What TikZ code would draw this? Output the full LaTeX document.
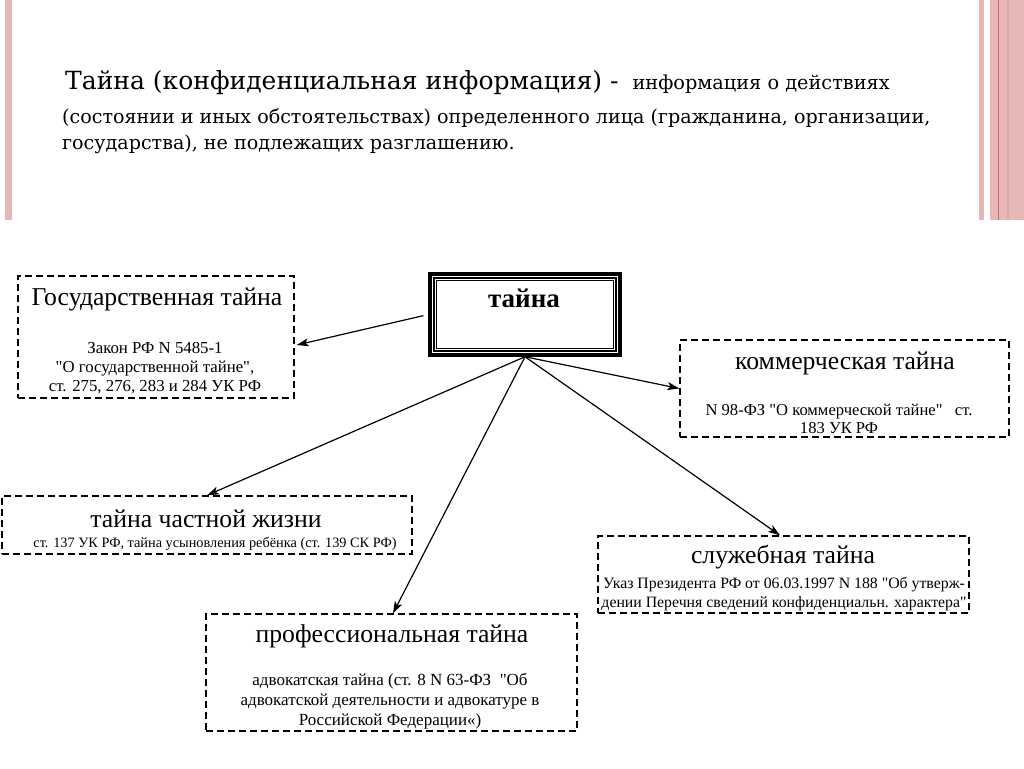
\documentclass[tikz,border=0pt]{standalone}
\usepackage{fontspec}
\setmainfont{Liberation Serif}
\newfontfamily\headfont{DejaVu Serif}
\usetikzlibrary{arrows.meta,calc,positioning}
\definecolor{stripe}{RGB}{229,184,183}
\definecolor{stripeline}{RGB}{205,105,95}
\newcommand{\qt}{\textquotedbl}
\tikzset{
	dbox/.style={draw, line width=1.3pt, dash pattern=on 7pt off 4pt, inner sep=0pt},
	boxtitle/.style={font=\fontsize{25.7}{28}\selectfont},
	boxtext/.style={align=center, font=\fontsize{16.8}{19}\selectfont},
	conn/.style={line width=1.2pt, -{Stealth[length=12pt,width=8pt,inset=3pt]}},
}

\begin{document}
\begin{tikzpicture}[x=1pt,y=-1pt]
	\useasboundingbox (0,0) rectangle (1024,768);
	%
	% stripes
	\fill[stripe] (5,0) rectangle (12,220);
	\fill[stripe] (979,0) rectangle (984,220);
	\fill[stripe] (990,0) rectangle (1024,220);
	\fill[stripeline] (997.5,0) rectangle (998.8,220);
	\fill[stripe!80!stripeline] (1007,0) rectangle (1008.5,220);
	
	% heading
	\node[anchor=base west, inner sep=0pt] (head1) at (65,89) {\headfont\fontsize{25}{28}\selectfont Тайна (конфиденциальная информация) - \fontsize{19.3}{20}\selectfont\ информация о действиях};
	\node[anchor=base west, inner sep=0pt] (head2) at (62,123) {\headfont\fontsize{19.1}{20}\selectfont (состоянии и иных обстоятельствах) определенного лица (гражданина, организации,};
	\node[anchor=base west, inner sep=0pt] (head3) at (62,149) {\headfont\fontsize{19.1}{20}\selectfont государства), не подлежащих разглашению.};
	
	% main box
	\node[draw, line width=3.5pt, minimum width=190, minimum height=81, inner sep=0pt] (taina) at (525,314.5) {};
	\draw[line width=2pt] (434,278) rectangle (616,351);
	\draw[line width=1pt] (436.8,280.8) rectangle (613.2,348.2);
	\node[font=\fontsize{27}{28}\selectfont\bfseries] (tainalbl) at (524,298) {тайна};
	
	% kinds of secret
	\node[dbox, minimum width=276, minimum height=122] (gos) at (156,337) {};
	\node[boxtitle] (gost) at (157,299) {Государственная тайна};
	\node[boxtext] (gosl) at (155,368) {Закон РФ N 5485-1\\\qt О государственной тайне\qt,\\ст. 275, 276, 283 и 284 УК РФ};
	
	\node[dbox, minimum width=329, minimum height=97] (komm) at (844.5,388.5) {};
	\node[boxtitle] (kommt) at (845,363) {коммерческая тайна};
	\node[boxtext, font=\fontsize{16.6}{18}\selectfont] (komml) at (839,418.5) {N 98-ФЗ \qt О коммерческой тайне\qt\ \ \ ст.\\183 УК РФ};
	
	\node[dbox, minimum width=410, minimum height=58] (chast) at (207,525) {};
	\node[boxtitle] (chastt) at (206,519) {тайна частной жизни};
	\node[boxtext, font=\fontsize{14.3}{16}\selectfont] (chastl) at (215,544) {ст. 137 УК РФ, тайна усыновления ребёнка (ст. 139 СК РФ)};
	
	\node[dbox, minimum width=371, minimum height=77] (sluzh) at (783.5,574.5) {};
	\node[boxtitle] (sluzht) at (783,557) {служебная тайна};
	\node[boxtext, font=\fontsize{15.8}{19}\selectfont] (sluzhl) at (784,594.5) {Указ Президента РФ от 06.03.1997 N 188 \qt Об утверж-\\дении Перечня сведений конфиденциальн. характера\qt};
	
	\node[dbox, minimum width=371, minimum height=117] (prof) at (391.5,672.5) {};
	\node[boxtitle] (proft) at (392,636) {профессиональная тайна};
	\node[boxtext, font=\fontsize{17}{20}\selectfont] (profl) at (390,701) {адвокатская тайна (ст. 8 N 63-ФЗ \ \qt Об\\адвокатской деятельности и адвокатуре в\\Российской Федерации«)};
	
	% arrows
	\draw[conn, shorten <=5pt] (taina.west) -- ($(gos.east)+(2,8)$);
	\draw[conn] (taina.south) -- (komm.west);
	\draw[conn] (taina.south) -- (chast.north);
	\draw[conn] (taina.south) -- ($(prof.north)+(1.5,0)$);
	\draw[conn] (taina.south) -- ($(sluzh.north)+(-3.5,0)$);
\end{tikzpicture}
\end{document}
